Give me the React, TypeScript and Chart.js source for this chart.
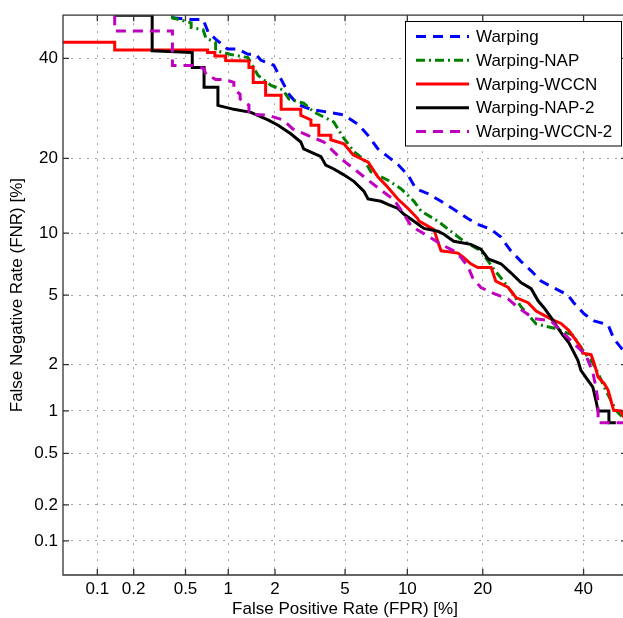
import React, { useEffect, useRef } from 'react';
import { Chart, registerables } from 'chart.js';

Chart.register(...registerables);

// ---- data (percent values) ----
const TICK_VALUES = [0.1, 0.2, 0.5, 1, 2, 5, 10, 20, 40];
const TICK_LABELS = ['0.1', '0.2', '0.5', '1', '2', '5', '10', '20', '40'];
const AXIS_MIN_PCT = 0.05;
const AXIS_MAX_PCT = 50;

const SERIES_NAMES = ['Warping', 'Warping-NAP', 'Warping-WCCN', 'Warping-NAP-2', 'Warping-WCCN-2'];

// [FPR %, FNR %]
const warping: number[][] = [
  [0.4, 49.4], [0.55, 49.0], [0.67, 49.0], [0.73, 45.9], [0.82, 44.4], [0.99, 42.1], [1.16, 42.1],
  [1.35, 40.9], [1.52, 40.9], [1.63, 39.6], [1.97, 38.4], [2.18, 35.3], [2.43, 32.1], [2.74, 30.0],
  [3.26, 29.0], [4.1, 28.4], [4.93, 27.9], [5.9, 25.9], [6.54, 24.0], [7.31, 21.6], [8.15, 20.3],
  [9.07, 19.0], [10.05, 17.4], [10.9, 15.4], [12.3, 14.7], [13.9, 13.7], [15.6, 12.7], [17.65, 11.6],
  [19.2, 10.95], [21.4, 10.4], [23.1, 9.6], [24.9, 8.3], [26.8, 7.4], [28.8, 6.65], [30.8, 5.9],
  [33.5, 5.45], [36.5, 5.0], [37.8, 4.55], [40.1, 3.96], [42.4, 3.62], [45.6, 3.44], [46.9, 2.87],
  [49.1, 2.44],
];

const warpingNAP: number[][] = [
  [0.4, 50], [0.4, 49.4], [0.55, 48.2], [0.55, 47.1], [0.67, 46.6], [0.7, 44.7], [0.82, 43.6],
  [0.82, 41.8], [1.04, 40.85], [1.35, 40.15], [1.57, 36.15], [1.89, 34.0], [2.24, 33.0], [2.43, 31.1],
  [2.96, 30.25], [3.39, 28.45], [4.36, 26.5], [4.87, 23.7], [5.57, 21.1], [6.25, 19.8], [6.76, 17.85],
  [8.15, 16.6], [9.36, 15.4], [10.7, 13.7], [11.5, 12.45], [13.5, 11.3], [15.2, 10.2], [17.06, 9.2],
  [19.7, 8.3], [21.7, 6.87], [23.1, 6.13], [25.3, 5.08], [26.8, 4.33], [29.8, 3.48], [33.9, 3.27],
  [37.6, 3.0], [39.85, 2.44], [42.1, 2.04], [43.3, 1.77], [44.7, 1.44], [46.25, 1.18], [47.4, 1.01],
  [49.1, 0.9],
];

const warpingWCCN: number[][] = [
  [0.05, 43.7], [0.14, 43.7], [0.14, 41.9], [0.72, 41.9], [0.72, 41.3], [0.81, 41.3], [0.81, 40.5],
  [0.96, 40.5], [0.96, 39.5], [1.37, 39.4], [1.37, 37.9], [1.46, 37.9], [1.46, 34.6], [1.75, 34.6],
  [1.75, 31.9], [2.18, 31.9], [2.18, 29.0], [2.85, 29.0], [2.85, 27.8], [3.26, 26.9], [3.26, 25.9],
  [3.61, 25.9], [3.61, 24.0], [4.2, 24.0], [4.2, 23.2], [4.93, 22.5], [5.5, 20.6], [6.55, 19.4],
  [7.3, 17.1], [7.97, 15.9], [9.06, 14.0], [10.15, 12.7], [11.1, 11.6], [11.25, 11.3], [13.0, 10.4],
  [13.6, 8.9], [13.9, 8.3], [16.2, 8.1], [17.05, 7.7], [18.1, 7.2], [19.2, 6.9], [21.4, 6.9],
  [22.2, 5.9], [24.35, 5.5], [25.85, 4.85], [28.2, 4.55], [29.8, 4.1], [32.9, 3.7], [35.0, 3.5],
  [36.7, 3.2], [39.4, 2.55], [39.8, 2.35], [41.7, 2.3], [42.4, 2.04], [43.3, 1.67], [44.7, 1.52],
  [45.6, 1.38], [46.25, 1.18], [46.9, 1.01], [48.6, 1.0], [49.3, 0.9],
];

const warpingNAP2: number[][] = [
  [0.14, 50], [0.28, 50], [0.28, 41.7], [0.56, 41.3], [0.56, 37.9], [0.68, 37.9], [0.68, 33.6],
  [0.85, 33.6], [0.85, 29.8], [1.09, 29.0], [1.41, 28.4], [1.81, 26.9], [2.09, 25.9], [2.49, 24.3],
  [2.85, 22.8], [2.96, 21.6], [3.71, 20.3], [3.94, 18.9], [4.36, 18.3], [4.93, 17.4], [5.57, 16.4],
  [6.25, 15.0], [6.54, 14.0], [7.56, 13.7], [8.15, 13.3], [9.07, 12.8], [9.66, 12.1], [10.7, 11.3],
  [11.8, 10.5], [13.5, 10.2], [14.27, 9.9], [15.6, 9.2], [18.1, 8.9], [19.7, 8.45], [20.9, 7.6],
  [23.1, 7.2], [24.9, 6.5], [26.8, 5.8], [28.8, 5.4], [30.2, 4.66], [31.4, 4.28], [32.9, 3.77],
  [34.3, 3.31], [35.4, 3.0], [36.7, 2.72], [37.6, 2.44], [38.7, 2.13], [39.4, 1.84], [41.0, 1.59],
  [42.1, 1.44], [42.8, 1.18], [43.3, 1.0], [45.8, 1.0], [45.8, 0.83], [47.4, 0.83],
];

const warpingWCCN2: number[][] = [
  [0.14, 50], [0.14, 46.3], [0.4, 46.3], [0.4, 38.4], [0.56, 38.4], [0.68, 37.7], [0.7, 36.4],
  [0.82, 35.3], [0.93, 35.3], [1.09, 34.65], [1.09, 33.2], [1.2, 32.1], [1.2, 31.1], [1.37, 29.85],
  [1.37, 28.05], [1.81, 27.85], [2.24, 26.9], [2.56, 25.2], [3.1, 24.05], [3.85, 22.8], [4.75, 19.95],
  [5.57, 18.3], [6.25, 17.1], [7.4, 15.4], [8.7, 13.9], [9.66, 12.1], [10.4, 10.75], [12.3, 9.7],
  [13.9, 8.9], [15.6, 8.3], [16.6, 7.75], [17.65, 7.0], [18.4, 6.13], [19.7, 5.47], [21.9, 5.08],
  [24.35, 4.78], [26.4, 4.25], [29.4, 3.72], [32.9, 3.62], [34.3, 3.31], [36.1, 2.97], [37.8, 2.69],
  [40.5, 2.29], [42.1, 1.79], [42.8, 1.44], [43.3, 1.15], [43.3, 0.83], [49.3, 0.83],
];

const SERIES_DATA = [warping, warpingNAP, warpingWCCN, warpingNAP2, warpingWCCN2];
const SERIES_COLORS = ['#0000ff', '#008000', '#ff0000', '#000000', '#bf00bf'];
const SERIES_DASH: number[][] = [[10, 7], [9, 4, 2, 4], [], [], [10, 7]];

// ---- normal deviate (probit) transform for the DET axes ----
function probit(p: number): number {
  const a = [-3.969683028665376e1, 2.209460984245205e2, -2.759285104469687e2, 1.38357751867269e2, -3.066479806614716e1, 2.506628277459239];
  const b = [-5.447609879822406e1, 1.615858368580409e2, -1.556989798598866e2, 6.680131188771972e1, -1.328068155288572e1];
  const c = [-7.784894002430293e-3, -3.223964580411365e-1, -2.400758277161838, -2.549732539343734, 4.374664141464968, 2.938163982698783];
  const d = [7.784695709041462e-3, 3.224671290700398e-1, 2.445134137142996, 3.754408661907416];
  const plow = 0.02425;
  const phigh = 1 - plow;
  if (p < plow) {
    const q = Math.sqrt(-2 * Math.log(p));
    return (((((c[0] * q + c[1]) * q + c[2]) * q + c[3]) * q + c[4]) * q + c[5]) / ((((d[0] * q + d[1]) * q + d[2]) * q + d[3]) * q + 1);
  }
  if (p <= phigh) {
    const q = p - 0.5;
    const r = q * q;
    return ((((((a[0] * r + a[1]) * r + a[2]) * r + a[3]) * r + a[4]) * r + a[5]) * q) / (((((b[0] * r + b[1]) * r + b[2]) * r + b[3]) * r + b[4]) * r + 1);
  }
  const q = Math.sqrt(-2 * Math.log(1 - p));
  return -(((((c[0] * q + c[1]) * q + c[2]) * q + c[3]) * q + c[4]) * q + c[5]) / ((((d[0] * q + d[1]) * q + d[2]) * q + d[3]) * q + 1);
}
const pz = (pct: number) => probit(pct / 100);

const FONT_FAMILY = '"Liberation Sans", Arial, Helvetica, sans-serif';
const FONT_SIZE = 17;

const framePlugin = {
  id: 'detFrame',
  afterDraw(chart: any) {
    const { ctx, chartArea } = chart;
    const { left, right, top, bottom } = chartArea;
    const xs = chart.scales.x;
    const ys = chart.scales.y;
    ctx.save();
    ctx.strokeStyle = '#333333';
    ctx.lineWidth = 1.3;
    ctx.setLineDash([]);
    ctx.beginPath();
    ctx.rect(left, top, right - left, bottom - top);
    ctx.stroke();
    const tl = 6;
    ctx.beginPath();
    TICK_VALUES.forEach((v) => {
      const px = xs.getPixelForValue(pz(v));
      ctx.moveTo(px, bottom);
      ctx.lineTo(px, bottom - tl);
      ctx.moveTo(px, top);
      ctx.lineTo(px, top + tl);
      const py = ys.getPixelForValue(pz(v));
      ctx.moveTo(left, py);
      ctx.lineTo(left + tl, py);
      ctx.moveTo(right, py);
      ctx.lineTo(right - tl, py);
    });
    ctx.stroke();

    // legend
    const bx = 405.5;
    const by = 21.5;
    const bw = 216;
    const bh = 124.5;
    ctx.fillStyle = '#ffffff';
    ctx.fillRect(bx, by, bw, bh);
    ctx.strokeStyle = '#000000';
    ctx.lineWidth = 1;
    ctx.strokeRect(bx, by, bw, bh);
    ctx.font = `${FONT_SIZE}px ${FONT_FAMILY}`;
    ctx.textBaseline = 'middle';
    ctx.textAlign = 'left';
    chart.data.datasets.forEach((ds: any, i: number) => {
      const cy = 36.5 + i * 23.75;
      ctx.strokeStyle = ds.borderColor;
      ctx.lineWidth = ds.borderWidth;
      ctx.setLineDash(ds.borderDash || []);
      ctx.beginPath();
      ctx.moveTo(416, cy);
      ctx.lineTo(469, cy);
      ctx.stroke();
      ctx.setLineDash([]);
      ctx.fillStyle = '#000000';
      ctx.fillText(ds.label, 476, cy + 1);
    });
    ctx.restore();
  },
};

function buildTicks(scale: any) {
  scale.ticks = TICK_VALUES.map((v) => ({ value: pz(v) }));
}

export default function App() {
  const canvasRef = useRef<HTMLCanvasElement | null>(null);

  useEffect(() => {
    const canvas = canvasRef.current;
    if (!canvas) return;
    const datasets = SERIES_NAMES.map((name, i) => ({
      label: name,
      data: SERIES_DATA[i].map(([fpr, fnr]) => ({ x: pz(fpr), y: pz(fnr) })),
      showLine: true,
      borderColor: SERIES_COLORS[i],
      backgroundColor: SERIES_COLORS[i],
      borderWidth: 3,
      borderDash: SERIES_DASH[i],
      pointRadius: 0,
      tension: 0,
      fill: false,
      order: SERIES_NAMES.length - i,
    }));

    const tickFont = { family: FONT_FAMILY, size: FONT_SIZE };
    const chart = new Chart(canvas, {
      type: 'scatter',
      data: { datasets },
      plugins: [framePlugin],
      options: {
        animation: false,
        responsive: false,
        events: [],
        layout: { padding: { top: 13, right: 3, left: 0, bottom: 0 } },
        plugins: { legend: { display: false }, tooltip: { enabled: false } },
        scales: {
          x: {
            type: 'linear',
            min: pz(AXIS_MIN_PCT),
            max: pz(AXIS_MAX_PCT),
            afterBuildTicks: buildTicks,
            afterFit: (s: any) => {
              s.height = 45;
            },
            ticks: {
              autoSkip: false,
              maxRotation: 0,
              padding: 4,
              color: '#000000',
              font: tickFont,
              callback: (_v: any, idx: number) => TICK_LABELS[idx],
            },
            grid: { color: '#a0a0a0', lineWidth: 1, drawTicks: false },
            border: { display: false, dash: [2, 6] },
            title: {
              display: true,
              text: 'False Positive Rate (FPR) [%]',
              color: '#000000',
              font: tickFont,
              padding: 0,
            },
          },
          y: {
            type: 'linear',
            min: pz(AXIS_MIN_PCT),
            max: pz(AXIS_MAX_PCT),
            afterBuildTicks: buildTicks,
            afterFit: (s: any) => {
              s.width = 63;
            },
            ticks: {
              autoSkip: false,
              padding: 5,
              color: '#000000',
              font: tickFont,
              callback: (_v: any, idx: number) => TICK_LABELS[idx],
            },
            grid: { color: '#a0a0a0', lineWidth: 1, drawTicks: false },
            border: { display: false, dash: [2, 6] },
            title: {
              display: true,
              text: 'False Negative Rate (FNR) [%]',
              color: '#000000',
              font: tickFont,
              padding: { top: 7, bottom: 0 },
            },
          },
        },
      },
    } as any);
    return () => chart.destroy();
  }, []);

  return (
    <div
      style={{
        position: 'fixed',
        left: 0,
        top: 0,
        width: 623,
        height: 618,
        overflow: 'hidden',
        background: '#ffffff',
      }}
    >
      <canvas ref={canvasRef} width={630} height={620} style={{ display: 'block', width: 630, height: 620 }} />
    </div>
  );
}
